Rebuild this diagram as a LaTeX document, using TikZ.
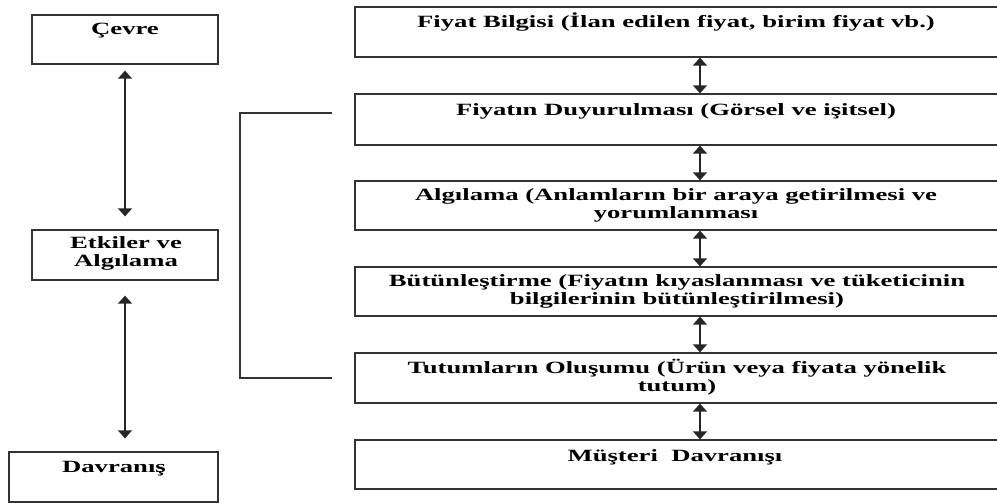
\documentclass[tikz,border=0pt]{standalone}
\usepackage{fontspec}
\setmainfont{Liberation Serif}[FakeStretch=1.55]
\usetikzlibrary{arrows.meta,calc}
\begin{document}
\begin{tikzpicture}[x=1pt,y=-1pt,
  box/.style={draw=black!80, line width=1.3pt, inner sep=0pt, minimum height=50pt},
  lbox/.style={box, minimum width=186pt},
  rbox/.style={box, minimum width=648pt},
  txt/.style={font=\fontsize{17.2}{18}\selectfont\bfseries, inner sep=0pt, anchor=base, align=center, text=black},
  dbl/.style={line width=1.4pt, draw=black!85, {Triangle[width=14pt,length=8pt]}-{Triangle[width=14pt,length=8pt]}},
  brk/.style={line width=1.3pt, draw=black!80}]
\useasboundingbox (0,0) rectangle (997,503);
\clip (0,0) rectangle (997,503);
% left column
\node[lbox, minimum height=49pt] (cevre) at (125,39.5) {};
\node[lbox] (etk) at (125,255) {};
\node[box, minimum width=209pt] (dav) at (113.5,477) {};
\node[txt] (tcevre) at (125,35) {Çevre};
\node[txt] (tetk) at (126,266) {Etkiler ve\\Algılama};
\node[txt] (tdav) at (114,472) {Davranış};
\coordinate (lx) at (125,0);
\draw[dbl, shorten <=6pt, shorten >=13pt] (cevre.south -| lx) -- (etk.north -| lx);
\draw[dbl, shorten <=15pt, shorten >=13pt] (etk.south -| lx) -- (dav.north -| lx);
% right column
\node[rbox] (b1) at (679,32) {};
\node[rbox, minimum height=51pt] (b2) at (679,119.5) {};
\node[rbox, minimum height=49pt] (b3) at (679,205.5) {};
\node[rbox, minimum height=49pt] (b4) at (679,291.5) {};
\node[rbox] (b5) at (679,378) {};
\node[rbox, minimum height=49pt] (b6) at (679,464.5) {};
\node[txt] (t1) at (676,28) {Fiyat Bilgisi (İlan edilen fiyat, birim fiyat vb.)};
\node[txt] (t2) at (676,115) {Fiyatın Duyurulması (Görsel ve işitsel)};
\node[txt] (t3) at (676,218) {Algılama (Anlamların bir araya getirilmesi ve\\yorumlanması};
\node[txt] (t4) at (677,304) {Bütünleştirme (Fiyatın kıyaslanması ve tüketicinin\\bilgilerinin bütünleştirilmesi)};
\node[txt] (t5) at (677,391) {Tutumların Oluşumu (Ürün veya fiyata yönelik\\tutum)};
\node[txt] (t6) at (675,461) {Müşteri\ \ Davranışı};
\coordinate (rx) at (700,0);
\draw[dbl] (b1.south -| rx) -- (b2.north -| rx);
\draw[dbl] (b2.south -| rx) -- (b3.north -| rx);
\draw[dbl] (b3.south -| rx) -- (b4.north -| rx);
\draw[dbl] (b4.south -| rx) -- (b5.north -| rx);
\draw[dbl] (b5.south -| rx) -- (b6.north -| rx);
% bracket
\coordinate (bt) at (332,113);
\coordinate (bl) at (240,378);
\coordinate (bb) at (332,378);
\draw[brk] (bt) -| (bl) -- (bb);
\end{tikzpicture}
\end{document}
